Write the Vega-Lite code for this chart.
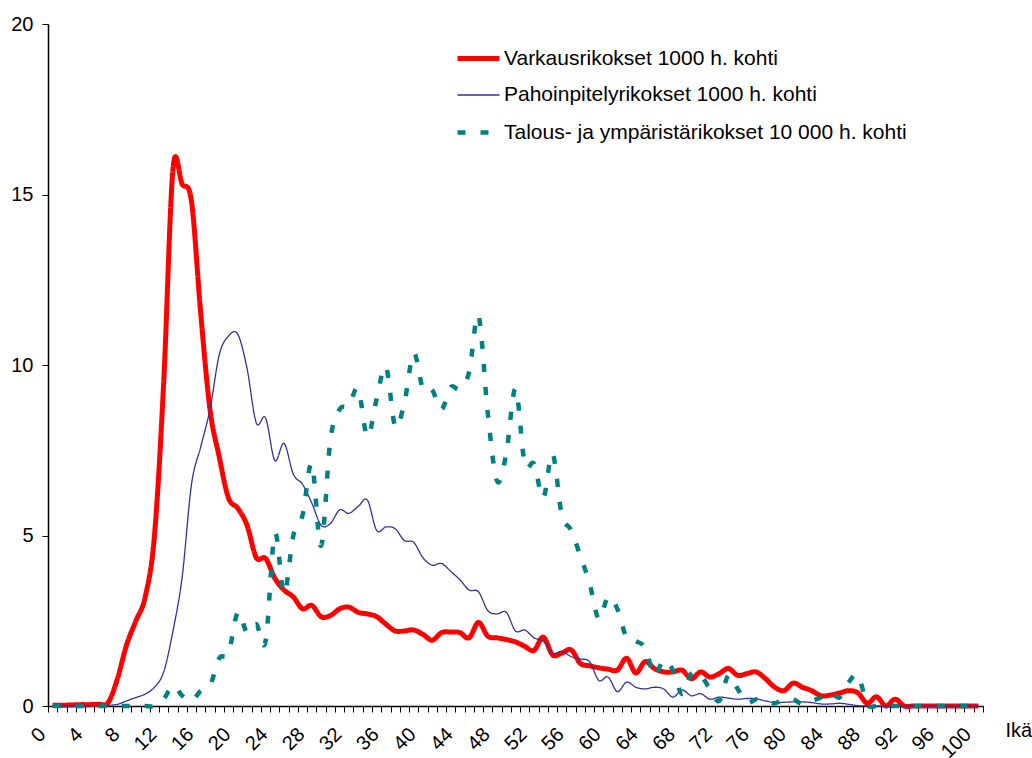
{
  "$schema": "https://vega.github.io/schema/vega-lite/v6.json",
  "autosize": {"type": "none"},
  "width": 935,
  "height": 682,
  "padding": {"left": 48, "top": 24, "right": 49, "bottom": 52},
  "background": "white",
  "config": {
    "font": "Liberation Sans",
    "view": {"stroke": null},
    "axis": {"grid": false, "domainColor": "black", "tickColor": "black", "labelColor": "black", "titleColor": "black", "labelFont": "Liberation Sans", "titleFont": "Liberation Sans"}
  },
  "data": {
    "values": [
      {"age": 0, "v": 0.02, "p": 0, "t": 0},
      {"age": 1, "v": 0.02, "p": 0, "t": 0},
      {"age": 2, "v": 0.03, "p": 0, "t": 0},
      {"age": 3, "v": 0.04, "p": 0, "t": 0},
      {"age": 4, "v": 0.04, "p": 0, "t": 0},
      {"age": 5, "v": 0.05, "p": 0.01, "t": 0},
      {"age": 6, "v": 0.1, "p": 0.02, "t": 0},
      {"age": 7, "v": 0.8, "p": 0.05, "t": 0},
      {"age": 8, "v": 1.8, "p": 0.15, "t": 0},
      {"age": 9, "v": 2.5, "p": 0.25, "t": 0},
      {"age": 10, "v": 3.2, "p": 0.35, "t": 0},
      {"age": 11, "v": 5.0, "p": 0.55, "t": 0},
      {"age": 12, "v": 9.5, "p": 1.0, "t": 0.2},
      {"age": 13, "v": 15.75, "p": 2.2, "t": 0.6},
      {"age": 14, "v": 15.3, "p": 3.8, "t": 0.3},
      {"age": 15, "v": 14.8, "p": 6.5, "t": 0.15},
      {"age": 16, "v": 11.5, "p": 7.6, "t": 0.45},
      {"age": 17, "v": 8.7, "p": 8.7, "t": 0.6},
      {"age": 18, "v": 7.3, "p": 10.3, "t": 1.4},
      {"age": 19, "v": 6.1, "p": 10.85, "t": 1.55},
      {"age": 20, "v": 5.8, "p": 10.9, "t": 2.75},
      {"age": 21, "v": 5.3, "p": 9.9, "t": 2.15},
      {"age": 22, "v": 4.35, "p": 8.3, "t": 2.4},
      {"age": 23, "v": 4.33, "p": 8.45, "t": 1.9},
      {"age": 24, "v": 3.75, "p": 7.2, "t": 5.05},
      {"age": 25, "v": 3.4, "p": 7.7, "t": 3.3},
      {"age": 26, "v": 3.2, "p": 6.8, "t": 5.0},
      {"age": 27, "v": 2.85, "p": 6.5, "t": 5.6},
      {"age": 28, "v": 2.95, "p": 5.95, "t": 7.1},
      {"age": 29, "v": 2.62, "p": 5.3, "t": 4.7},
      {"age": 30, "v": 2.65, "p": 5.35, "t": 7.8},
      {"age": 31, "v": 2.85, "p": 5.75, "t": 8.7},
      {"age": 32, "v": 2.9, "p": 5.65, "t": 8.8},
      {"age": 33, "v": 2.75, "p": 5.85, "t": 9.3},
      {"age": 34, "v": 2.7, "p": 6.04, "t": 7.9},
      {"age": 35, "v": 2.62, "p": 5.15, "t": 9.0},
      {"age": 36, "v": 2.4, "p": 5.25, "t": 9.95},
      {"age": 37, "v": 2.2, "p": 5.2, "t": 8.2},
      {"age": 38, "v": 2.2, "p": 4.85, "t": 8.9},
      {"age": 39, "v": 2.23, "p": 4.8, "t": 10.35},
      {"age": 40, "v": 2.1, "p": 4.35, "t": 9.3},
      {"age": 41, "v": 1.93, "p": 4.13, "t": 9.27},
      {"age": 42, "v": 2.15, "p": 4.18, "t": 8.7},
      {"age": 43, "v": 2.17, "p": 3.95, "t": 9.35},
      {"age": 44, "v": 2.15, "p": 3.7, "t": 9.3},
      {"age": 45, "v": 2.0, "p": 3.4, "t": 9.8},
      {"age": 46, "v": 2.45, "p": 3.35, "t": 11.45},
      {"age": 47, "v": 2.05, "p": 2.8, "t": 8.6},
      {"age": 48, "v": 2.0, "p": 2.7, "t": 6.6},
      {"age": 49, "v": 1.95, "p": 2.75, "t": 7.4},
      {"age": 50, "v": 1.88, "p": 2.2, "t": 9.3},
      {"age": 51, "v": 1.75, "p": 2.23, "t": 7.1},
      {"age": 52, "v": 1.63, "p": 2.0, "t": 7.1},
      {"age": 53, "v": 2.02, "p": 1.9, "t": 6.1},
      {"age": 54, "v": 1.5, "p": 1.55, "t": 7.4},
      {"age": 55, "v": 1.55, "p": 1.6, "t": 5.6},
      {"age": 56, "v": 1.65, "p": 1.45, "t": 5.16},
      {"age": 57, "v": 1.25, "p": 1.38, "t": 4.4},
      {"age": 58, "v": 1.18, "p": 1.3, "t": 3.6},
      {"age": 59, "v": 1.12, "p": 0.75, "t": 2.55},
      {"age": 60, "v": 1.08, "p": 0.85, "t": 3.2},
      {"age": 61, "v": 1.05, "p": 0.42, "t": 2.85},
      {"age": 62, "v": 1.4, "p": 0.7, "t": 2.0},
      {"age": 63, "v": 0.97, "p": 0.55, "t": 1.9},
      {"age": 64, "v": 1.3, "p": 0.5, "t": 1.7},
      {"age": 65, "v": 1.1, "p": 0.55, "t": 0.9},
      {"age": 66, "v": 1.0, "p": 0.5, "t": 1.35},
      {"age": 67, "v": 1.0, "p": 0.26, "t": 1.05},
      {"age": 68, "v": 1.05, "p": 0.47, "t": 0.35},
      {"age": 69, "v": 0.8, "p": 0.3, "t": 0.95},
      {"age": 70, "v": 1.0, "p": 0.36, "t": 0.9},
      {"age": 71, "v": 0.85, "p": 0.2, "t": 0.5},
      {"age": 72, "v": 0.95, "p": 0.26, "t": 0.15},
      {"age": 73, "v": 1.1, "p": 0.23, "t": 0.9},
      {"age": 74, "v": 0.9, "p": 0.2, "t": 0.5},
      {"age": 75, "v": 0.95, "p": 0.22, "t": 0.1},
      {"age": 76, "v": 1.0, "p": 0.21, "t": 0.2},
      {"age": 77, "v": 0.8, "p": 0.15, "t": 0.15},
      {"age": 78, "v": 0.55, "p": 0.1, "t": 0.08},
      {"age": 79, "v": 0.45, "p": 0.11, "t": 0.2},
      {"age": 80, "v": 0.67, "p": 0.12, "t": 0.2},
      {"age": 81, "v": 0.55, "p": 0.12, "t": 0.05},
      {"age": 82, "v": 0.45, "p": 0.1, "t": 0.15},
      {"age": 83, "v": 0.3, "p": 0.06, "t": 0.25},
      {"age": 84, "v": 0.32, "p": 0.06, "t": 0.4},
      {"age": 85, "v": 0.38, "p": 0.08, "t": 0.25},
      {"age": 86, "v": 0.45, "p": 0.05, "t": 0.7},
      {"age": 87, "v": 0.38, "p": 0.01, "t": 0.9},
      {"age": 88, "v": 0.08, "p": 0, "t": 0.05},
      {"age": 89, "v": 0.27, "p": 0, "t": 0},
      {"age": 90, "v": 0, "p": 0, "t": 0},
      {"age": 91, "v": 0.2, "p": 0, "t": 0},
      {"age": 92, "v": 0, "p": 0, "t": 0},
      {"age": 93, "v": 0, "p": 0, "t": 0},
      {"age": 94, "v": 0, "p": 0, "t": 0},
      {"age": 95, "v": 0, "p": 0, "t": 0},
      {"age": 96, "v": 0, "p": 0, "t": 0},
      {"age": 97, "v": 0, "p": 0, "t": 0},
      {"age": 98, "v": 0, "p": 0, "t": 0},
      {"age": 99, "v": 0, "p": 0, "t": 0},
      {"age": 100, "v": 0, "p": 0, "t": 0}
    ]
  },
  "transform": [
    {"fold": ["v", "p", "t"], "as": ["key", "value"]},
    {"lookup": "key", "from": {"data": {"values": [
      {"key": "v", "sarja": "Varkausrikokset 1000 h. kohti"},
      {"key": "p", "sarja": "Pahoinpitelyrikokset 1000 h. kohti"},
      {"key": "t", "sarja": "Talous- ja ympäristärikokset 10 000 h. kohti"}
    ]}, "key": "key", "fields": ["sarja"]}}
  ],
  "mark": {"type": "line", "interpolate": "cardinal", "strokeCap": "butt", "strokeJoin": "round", "clip": false},
  "encoding": {
    "x": {
      "field": "age", "type": "quantitative",
      "scale": {"domain": [-0.5, 100.5], "nice": false, "zero": false},
      "axis": {
        "title": "Ikä",
        "titleFontSize": 20, "titleFontWeight": "normal",
        "titleX": 957, "titleY": 24, "titleAlign": "left", "titleBaseline": "middle", "titleAnchor": null,
        "values": [-0.5,0.5,1.5,2.5,3.5,4.5,5.5,6.5,7.5,8.5,9.5,10.5,11.5,12.5,13.5,14.5,15.5,16.5,17.5,18.5,19.5,20.5,21.5,22.5,23.5,24.5,25.5,26.5,27.5,28.5,29.5,30.5,31.5,32.5,33.5,34.5,35.5,36.5,37.5,38.5,39.5,40.5,41.5,42.5,43.5,44.5,45.5,46.5,47.5,48.5,49.5,50.5,51.5,52.5,53.5,54.5,55.5,56.5,57.5,58.5,59.5,60.5,61.5,62.5,63.5,64.5,65.5,66.5,67.5,68.5,69.5,70.5,71.5,72.5,73.5,74.5,75.5,76.5,77.5,78.5,79.5,80.5,81.5,82.5,83.5,84.5,85.5,86.5,87.5,88.5,89.5,90.5,91.5,92.5,93.5,94.5,95.5,96.5,97.5,98.5,99.5,100.5],
        "labelExpr": "(datum.value + 0.5) % 4 == 0 ? format(datum.value + 0.5, 'd') : ''",
        "labelAngle": -45, "labelAlign": "right", "labelBaseline": "middle",
        "labelFontSize": 20, "labelOffset": -6, "labelPadding": 19,
        "labelOverlap": false, "labelFlush": false, "labelBound": false,
        "tickSize": 6, "tickWidth": 1, "domainWidth": 1.5
      }
    },
    "y": {
      "field": "value", "type": "quantitative",
      "scale": {"domain": [0, 20], "nice": false},
      "axis": {
        "title": null, "values": [0, 5, 10, 15, 20],
        "labelFontSize": 20, "tickSize": 6, "labelPadding": 9, "domainWidth": 1.5, "tickWidth": 1
      }
    },
    "color": {
      "field": "sarja", "type": "nominal",
      "scale": {
        "domain": ["Varkausrikokset 1000 h. kohti", "Pahoinpitelyrikokset 1000 h. kohti", "Talous- ja ympäristärikokset 10 000 h. kohti"],
        "range": ["#FF0000", "#333399", "#008080"]
      },
      "legend": {
        "title": null, "orient": "none", "legendX": 407, "legendY": 11,
        "symbolType": "stroke", "symbolSize": 1764, "labelFontSize": 21, "labelOffset": 2,
        "labelLimit": 700, "rowPadding": 4, "padding": 0, "labelColor": "black", "labelFont": "Liberation Sans"
      }
    },
    "strokeWidth": {
      "field": "sarja", "type": "nominal",
      "scale": {
        "type": "ordinal",
        "domain": ["Varkausrikokset 1000 h. kohti", "Pahoinpitelyrikokset 1000 h. kohti", "Talous- ja ympäristärikokset 10 000 h. kohti"],
        "range": [5, 1.3, 4.5]
      },
      "legend": null
    },
    "strokeDash": {
      "field": "sarja", "type": "nominal",
      "scale": {
        "domain": ["Varkausrikokset 1000 h. kohti", "Pahoinpitelyrikokset 1000 h. kohti", "Talous- ja ympäristärikokset 10 000 h. kohti"],
        "range": [[1, 0], [1, 0], [8, 15]]
      },
      "legend": null
    }
  }
}
